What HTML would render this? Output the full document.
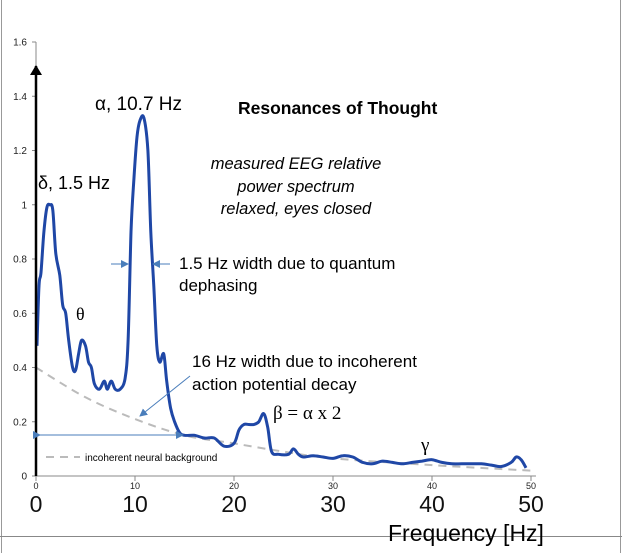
<!DOCTYPE html>
<html><head><meta charset="utf-8"><style>
html,body{margin:0;padding:0;background:#fff;}
svg{display:block;font-family:"Liberation Sans",sans-serif;}
</style></head><body>
<svg id="chart" width="622" height="553" viewBox="0 0 622 553">
<defs>
<marker id="ah" markerWidth="8" markerHeight="8" refX="7" refY="4" orient="auto" markerUnits="userSpaceOnUse"><path d="M0,0 L8,4 L0,8 z" fill="#4a7ebb"/></marker>
<marker id="ahb" markerWidth="10" markerHeight="12" refX="9" refY="6" orient="auto" markerUnits="userSpaceOnUse"><path d="M0,0 L10,6 L0,12 z" fill="#000"/></marker>
</defs>
<line x1="1.5" y1="0" x2="1.5" y2="553" stroke="#999"/>
<line x1="620.5" y1="0" x2="620.5" y2="553" stroke="#999"/>
<line x1="0" y1="536.5" x2="622" y2="536.5" stroke="#888"/>
<g id="axes"></g>
<path id="bg" fill="none" stroke="#bbb" stroke-width="2" stroke-dasharray="8,6"/>
<path id="spec" fill="none" stroke="#1f47a6" stroke-width="3" stroke-linejoin="round"/>
<line x1="36" y1="476" x2="36" y2="66" stroke="#000" stroke-width="2.5" marker-end="url(#ahb)"/>
<text x="238" y="114" font-size="17.5" font-weight="bold">Resonances of Thought</text>
<g font-size="16.5" font-style="italic" text-anchor="middle">
<text x="296" y="169">measured EEG relative</text>
<text x="296" y="192">power spectrum</text>
<text x="296" y="214">relaxed, eyes closed</text></g>
<text x="95" y="110" font-size="19">α, 10.7 Hz</text>
<text x="38" y="189" font-size="18">δ, 1.5 Hz</text>
<text x="76" y="320" font-size="18" font-family="Liberation Serif, serif">θ</text>
<text x="273" y="419" font-size="19" font-family="Liberation Serif, serif">β = α x 2</text>
<text x="421" y="451" font-size="19" font-family="Liberation Serif, serif">γ</text>
<text x="179" y="269" font-size="17">1.5 Hz width due to quantum</text>
<text x="179" y="291" font-size="17">dephasing</text>
<text x="192" y="367" font-size="17">16 Hz width due to incoherent</text>
<text x="192" y="390" font-size="17">action potential decay</text>
<line x1="111" y1="264" x2="128" y2="264" stroke="#4a7ebb" marker-end="url(#ah)"/>
<line x1="170" y1="264" x2="153" y2="264" stroke="#4a7ebb" marker-end="url(#ah)"/>
<line x1="190" y1="376" x2="140" y2="416" stroke="#4a7ebb" marker-end="url(#ah)"/>
<line x1="40" y1="435" x2="183" y2="435" stroke="#4a7ebb" marker-start="url(#ah)" marker-end="url(#ah)"/>
<line x1="46" y1="457" x2="80" y2="457" stroke="#bbb" stroke-width="2" stroke-dasharray="8,6"/>
<text x="85" y="461" font-size="10">incoherent neural background</text>
<text x="388" y="541" font-size="23">Frequency [Hz]</text>
</svg>
<script>
const freqs=[0.1,0.3,0.5,0.8,1.1,1.4,1.7,2.0,2.4,2.7,3.0,3.3,3.7,4.0,4.3,4.6,5.0,5.3,5.6,5.9,6.4,6.9,7.2,7.6,8.0,8.5,9.0,9.3,9.6,9.9,10.2,10.5,10.9,11.3,11.6,11.9,12.2,12.5,12.9,13.2,13.6,14.0,14.5,15,16,17,18,19,20,20.5,21,21.5,22,22.5,23,23.4,23.8,24.5,25.5,26,26.5,27,28,29,30,31,32,33,34,35,36,37,38,39,40,41,42,43,44,45,46,47,48,48.5,49,49.5];
const power=[0.48,0.7,0.75,0.9,0.99,1.0,0.98,0.82,0.74,0.63,0.6,0.5,0.4,0.39,0.45,0.5,0.48,0.42,0.40,0.34,0.32,0.35,0.32,0.35,0.32,0.32,0.36,0.5,0.9,1.1,1.25,1.31,1.32,1.2,0.9,0.7,0.48,0.42,0.45,0.35,0.25,0.2,0.16,0.15,0.15,0.14,0.14,0.11,0.12,0.17,0.19,0.19,0.19,0.2,0.23,0.18,0.09,0.08,0.08,0.1,0.08,0.07,0.075,0.07,0.065,0.075,0.07,0.05,0.045,0.055,0.05,0.045,0.05,0.055,0.06,0.05,0.045,0.045,0.045,0.045,0.04,0.035,0.05,0.07,0.06,0.03];
const bgFreqs=[0,5,10,15,20,25,30,40,50];
const bgPower=[0.4,0.29,0.21,0.15,0.12,0.09,0.065,0.04,0.02];
const yTicks=[0,0.2,0.4,0.6,0.8,1,1.2,1.4,1.6];
const yTickLabels=["0","0.2","0.4","0.6","0.8","1","1.2","1.4","1.6"];
const xTicks=[0,10,20,30,40,50];
const xTickLabels=["0","10","20","30","40","50"];
const X=f=>36+f*9.9;
const Y=v=>476-v*271.25;
const NS="http://www.w3.org/2000/svg";
const ax=document.getElementById('axes');
function mk(tag,attrs,txt){const e=document.createElementNS(NS,tag);for(const k in attrs)e.setAttribute(k,attrs[k]);if(txt!==undefined)e.textContent=txt;ax.appendChild(e);return e;}
let e=mk('line',{x1:36,y1:Y(1.6),x2:36,y2:476,stroke:'#888'});


e=mk('line',{x1:36,y1:476,x2:X(50.5),y2:476,stroke:'#888'});


yTicks.forEach((t,i)=>{
 const y=Y(t);
 let l=mk('line',{x1:32,y1:y,x2:36,y2:y,stroke:'#888'});
 
 
 let tx=mk('text',{x:27,y:y+3.5,'font-size':10,'text-anchor':'end',fill:'#222'},yTickLabels[i]);
 
 
});
xTicks.forEach((t,i)=>{
 const x=X(t);
 let l=mk('line',{x1:x,y1:476,x2:x,y2:481,stroke:'#888'});
 
 
 let s=mk('text',{x:x,y:489,'font-size':9,'text-anchor':'middle',fill:'#222'},xTickLabels[i]);
 
 
 let b=mk('text',{x:x,y:512,'font-size':23,'text-anchor':'middle',fill:'#111'},xTickLabels[i]);
 
 
});
function smooth(xs,ys){
 const p=xs.map((f,i)=>[X(f),Y(ys[i])]);
 let d='M'+p[0][0]+','+p[0][1];
 for(let i=0;i<p.length-1;i++){
  const p0=p[i-1]||p[i],p1=p[i],p2=p[i+1],p3=p[i+2]||p2;
  const c1=[p1[0]+(p2[0]-p0[0])/6,p1[1]+(p2[1]-p0[1])/6];
  const c2=[p2[0]-(p3[0]-p1[0])/6,p2[1]-(p3[1]-p1[1])/6];
  d+=' C'+c1[0].toFixed(1)+','+c1[1].toFixed(1)+' '+c2[0].toFixed(1)+','+c2[1].toFixed(1)+' '+p2[0].toFixed(1)+','+p2[1].toFixed(1);
 }
 return d;
}
document.getElementById('spec').setAttribute('d',smooth(freqs,power));
document.getElementById('bg').setAttribute('d',smooth(bgFreqs,bgPower));
</script>
</body></html>
